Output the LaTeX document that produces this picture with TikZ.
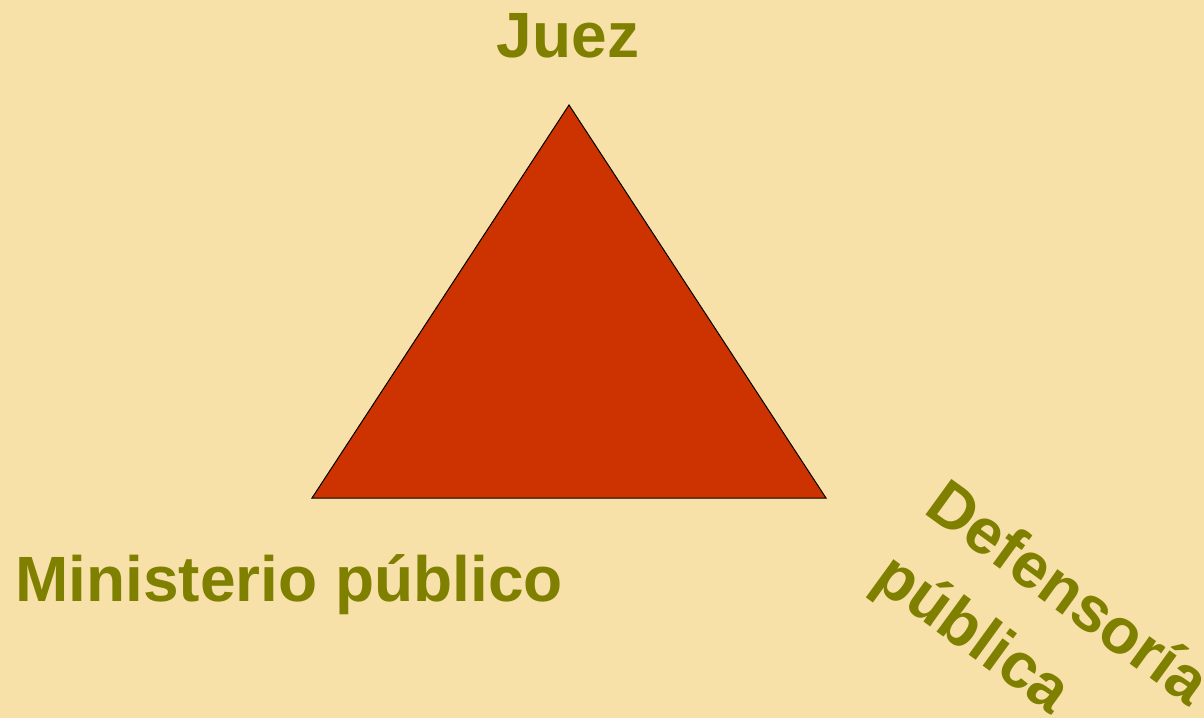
\documentclass[tikz,border=0pt]{standalone}
\usepackage{fontspec}
\setmainfont{Liberation Sans}
\definecolor{bg}{HTML}{F7E1A9}
\definecolor{tri}{HTML}{CC3300}
\definecolor{olive}{HTML}{808000}
\begin{document}
\begin{tikzpicture}[x=1pt,y=-1pt,
  lbl/.style={text=olive,font=\fontsize{64}{78}\selectfont\bfseries,inner sep=0pt}]
\fill[bg] (0,0) rectangle (1204,718);
\useasboundingbox (0,0) rectangle (1204,718);
\coordinate (T) at (569,105);
\coordinate (L) at (312,498);
\coordinate (R) at (826,498);
\filldraw[fill=tri,draw=black,line width=1pt,line join=miter] (T) -- (L) -- (R) -- cycle;
\node[lbl,anchor=base] (juez) at (568,57) {Juez};
\node[lbl,anchor=base west] (mp) at (15,601) {Ministerio público};
\node[lbl,anchor=center,align=left,rotate=-36,font=\fontsize{64}{88}\selectfont\bfseries] (dp) at (1040,632) {Defensoría\\pública};
\end{tikzpicture}
\end{document}
